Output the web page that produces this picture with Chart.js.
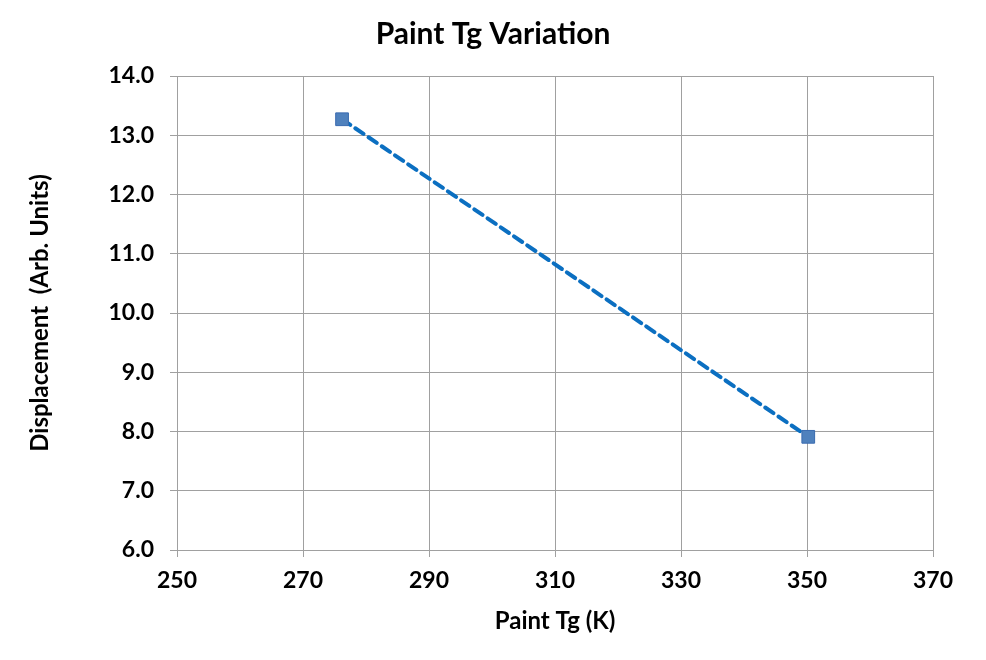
<!DOCTYPE html>
<html>
<head>
<meta charset="utf-8">
<script src="https://cdn.jsdelivr.net/npm/chart.js@4"></script>
<style>
  html, body { margin: 0; padding: 0; background: #ffffff; }
  #wrap { width: 986px; height: 660px; position: relative; }
</style>
</head>
<body>
<div id="wrap"><canvas id="tgChart"></canvas></div>
<script>
// values
const paintTg = [276.2, 350.2];
const displacement = [13.27, 7.91];

const xTicks = [250, 270, 290, 310, 330, 350, 370];
const yTicks = [6, 7, 8, 9, 10, 11, 12, 13, 14];

const chartTitle = "Paint Tg Variation";
const xTitle = "Paint Tg (K)";
const yTitle = "Displacement  (Arb. Units)";

const fontFamily = "Lato, 'Open Sans', sans-serif";
const gridColor = "#a0a0a0";

const points = paintTg.map(function(x, i){
    return { x: x, y: displacement[i] };
});

const ctx = document.getElementById("tgChart");

new Chart(ctx, {

    type: "scatter",

    data: {
        datasets: [{
            label: "Displacement",
            data: points,
            showLine: true,
            borderColor: "#0b6fc1",
            borderWidth: 4,
            borderDash: [10, 6],
            borderCapStyle: "round",
            pointStyle: "rect",
            pointRadius: 9,
            pointBackgroundColor: "#4f81bd",
            pointBorderColor: "#3a6bb0",
            pointBorderWidth: 1
        }]
    },

    options: {
        responsive: true,
        maintainAspectRatio: false,
        animation: false,
        layout: {
            padding: 0
        },
        plugins: {
            legend: { display: false },
            tooltip: { enabled: false },
            title: {
                display: true,
                text: chartTitle,
                color: "#000000",
                font: { family: fontFamily, size: 30, weight: "bold" },
                padding: { top: 16, bottom: 24 }
            }
        },
        scales: {
            x: {
                type: "linear",
                min: xTicks[0],
                max: xTicks[xTicks.length - 1],
                afterBuildTicks: function(scale){
                    scale.ticks = xTicks.map(function(v){ return { value: v }; });
                },
                afterFit: function(scale){
                    scale.height = 110;
                },
                grid: {
                    color: gridColor,
                    lineWidth: 1,
                    tickLength: 7
                },
                border: { color: gridColor },
                ticks: {
                    color: "#000000",
                    padding: 10,
                    font: { family: fontFamily, size: 23, weight: "bold" }
                },
                title: {
                    display: true,
                    text: xTitle,
                    color: "#000000",
                    font: { family: fontFamily, size: 24, weight: "bold" },
                    padding: { top: 0, bottom: 24 }
                }
            },
            y: {
                min: yTicks[0],
                max: yTicks[yTicks.length - 1],
                afterBuildTicks: function(scale){
                    scale.ticks = yTicks.map(function(v){ return { value: v }; });
                },
                afterFit: function(scale){
                    scale.width = 177;
                },
                grid: {
                    color: gridColor,
                    lineWidth: 1,
                    tickLength: 7
                },
                border: { color: gridColor },
                ticks: {
                    color: "#000000",
                    padding: 16,
                    font: { family: fontFamily, size: 23, weight: "bold" },
                    callback: function(v){ return Number(v).toFixed(1); }
                },
                title: {
                    display: true,
                    text: yTitle,
                    color: "#000000",
                    font: { family: fontFamily, size: 24, weight: "bold" },
                    padding: { top: 26, bottom: 0 }
                }
            },
            // empty right-hand axis to reserve the right margin
            yRight: {
                position: "right",
                display: true,
                min: yTicks[0],
                max: yTicks[yTicks.length - 1],
                afterFit: function(scale){
                    scale.width = 53;
                },
                grid: { display: false, drawTicks: false },
                border: { display: false },
                ticks: { display: false }
            }
        }
    }

});
</script>
</body>
</html>
